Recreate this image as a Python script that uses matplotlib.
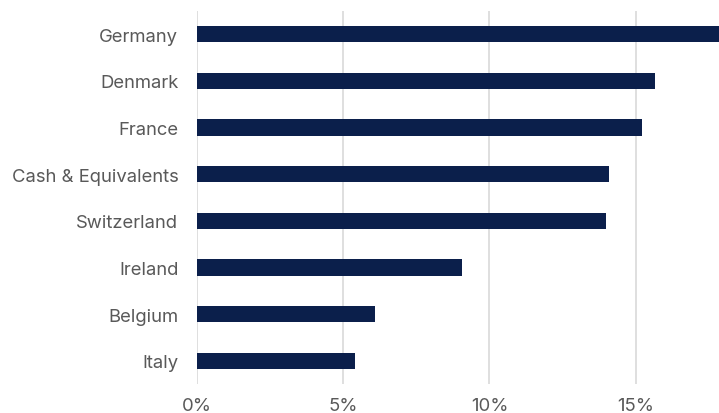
import matplotlib
matplotlib.use('Agg')
import matplotlib.pyplot as plt
from matplotlib.ticker import FuncFormatter

# data (percent of portfolio)
countries = ['Germany', 'Denmark', 'France', 'Cash & Equivalents',
             'Switzerland', 'Ireland', 'Belgium', 'Italy']
weights = [18.2, 15.65, 15.2, 14.1, 14.0, 9.05, 6.1, 5.4]
xticks = [0, 5, 10, 15]

plt.rcParams['font.family'] = ['Inter', 'DejaVu Sans']

fig = plt.figure(figsize=(7.19, 4.14), dpi=100)
ax = fig.add_axes([0.274, 0.070, 0.726, 0.901])

ypos = list(range(len(countries)))
ax.barh(ypos, weights, height=0.35, color='#0b1f4b', zorder=3)

ax.set_ylim(len(countries) - 0.5, -0.5)
ax.set_xlim(0, 17.85)
ax.set_yticks(ypos)
ax.set_yticklabels(countries)
ax.set_xticks(xticks)
ax.xaxis.set_major_formatter(FuncFormatter(lambda v, p: f'{v:.0f}%'))

ax.grid(axis='x', color='#d9d9d9', linewidth=1.2, zorder=0)
for s in ax.spines.values():
    s.set_visible(False)
ax.tick_params(axis='y', length=0, pad=13.5, labelsize=13.3, labelcolor='#595959')
ax.tick_params(axis='x', length=0, pad=9, labelsize=13.3, labelcolor='#595959')

plt.savefig('out.png', dpi=100)
